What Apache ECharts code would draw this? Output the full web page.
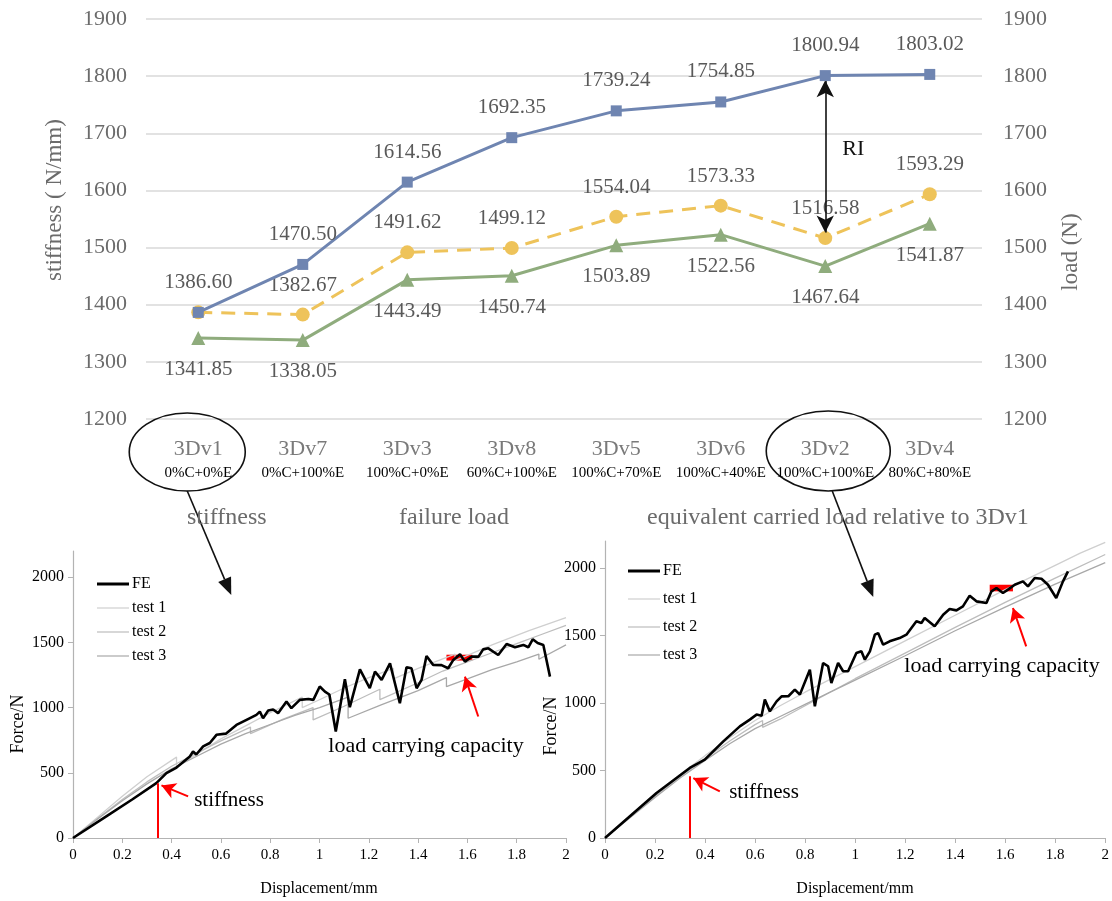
<!DOCTYPE html>
<html><head><meta charset="utf-8">
<script src="https://cdn.jsdelivr.net/npm/echarts@6/dist/echarts.min.js"></script>
<style>html,body{margin:0;padding:0;background:#fff}#c{width:1112px;height:901px}</style>
</head><body><div id="c"></div>
<script>
// ---------- top chart data ----------
const categories = ['3Dv1','3Dv7','3Dv3','3Dv8','3Dv5','3Dv6','3Dv2','3Dv4'];
const compositions = ['0%C+0%E','0%C+100%E','100%C+0%E','60%C+100%E','100%C+70%E','100%C+40%E','100%C+100%E','80%C+80%E'];
const stiffness = [1386.60,1470.50,1614.56,1692.35,1739.24,1754.85,1800.94,1803.02];
const failureLoad = [1341.85,1338.05,1443.49,1450.74,1503.89,1522.56,1467.64,1541.87];
const equivalentLoad = [1386.60,1382.67,1491.62,1499.12,1554.04,1573.33,1516.58,1593.29];
const topTicks = [1200,1300,1400,1500,1600,1700,1800,1900];
// ---------- bottom charts data (displacement mm, force N) ----------
const feLeft = [[0,0],[0.135,166],[0.24,295],[0.338,421],[0.379,497],[0.42,540],[0.474,625],[0.487,663],[0.5,640],[0.528,702],[0.555,728],[0.582,791],[0.62,800],[0.663,867],[0.704,906],[0.744,944],[0.758,969],[0.771,918],[0.792,977],[0.812,985],[0.832,957],[0.866,1046],[0.886,995],[0.92,1059],[0.955,1066],[0.975,1059],[1.001,1161],[1.022,1122],[1.04,1100],[1.066,816],[1.103,1217],[1.123,1003],[1.164,1293],[1.204,1148],[1.225,1276],[1.252,1212],[1.286,1339],[1.326,1033],[1.353,1309],[1.373,1301],[1.394,1148],[1.414,1212],[1.434,1395],[1.461,1327],[1.495,1325],[1.522,1301],[1.543,1365],[1.57,1408],[1.59,1352],[1.617,1390],[1.645,1390],[1.664,1446],[1.685,1454],[1.725,1403],[1.759,1487],[1.793,1462],[1.827,1480],[1.847,1462],[1.865,1523],[1.885,1495],[1.908,1480],[1.935,1237]];
const test1Left = [[0,0],[0.1,160],[0.2,320],[0.3,470],[0.42,620],[0.42,545],[0.5,640],[0.6,760],[0.7,860],[0.8,960],[0.93,1080],[0.93,1000],[1.0,1060],[1.1,1150],[1.2,1230],[1.3,1300],[1.3,1220],[1.4,1300],[1.55,1410],[1.55,1360],[1.7,1480],[1.85,1590],[2.0,1690]];
const test2Left = [[0,0],[0.1,150],[0.2,295],[0.3,430],[0.4,550],[0.5,650],[0.6,745],[0.72,850],[0.72,800],[0.85,910],[0.974,1000],[0.974,905],[1.1,1010],[1.2,1100],[1.245,1140],[1.245,1060],[1.4,1190],[1.5,1280],[1.6,1350],[1.7,1420],[1.8,1490],[1.9,1560],[2.0,1630]];
const test3Left = [[0,0],[0.1,145],[0.2,285],[0.3,415],[0.4,530],[0.5,625],[0.6,720],[0.7,800],[0.8,870],[0.9,940],[1.0,1000],[1.116,1080],[1.116,918],[1.25,1020],[1.4,1130],[1.515,1230],[1.515,1160],[1.6,1220],[1.7,1290],[1.8,1350],[1.89,1410],[1.89,1370],[2.0,1480]];
const feRight = [[0,0],[0.206,333],[0.339,519],[0.399,580],[0.473,716],[0.539,827],[0.579,877],[0.606,914],[0.626,905],[0.639,1025],[0.659,938],[0.686,1012],[0.706,1049],[0.733,1050],[0.759,1099],[0.779,1062],[0.819,1247],[0.839,975],[0.872,1296],[0.892,1272],[0.905,1148],[0.932,1296],[0.952,1235],[0.972,1235],[1.005,1370],[1.025,1383],[1.039,1321],[1.059,1383],[1.079,1506],[1.092,1518],[1.112,1432],[1.138,1457],[1.178,1481],[1.205,1506],[1.245,1605],[1.265,1593],[1.278,1630],[1.318,1568],[1.352,1654],[1.378,1696],[1.405,1686],[1.431,1716],[1.458,1795],[1.485,1753],[1.525,1741],[1.545,1827],[1.565,1852],[1.591,1815],[1.611,1840],[1.638,1876],[1.671,1901],[1.691,1864],[1.718,1926],[1.745,1920],[1.771,1876],[1.804,1778],[1.831,1901],[1.851,1975]];
const test1Right = [[0,0],[0.1,160],[0.2,320],[0.3,470],[0.4,610],[0.5,745],[0.6,870],[0.7,980],[0.8,1080],[0.9,1175],[1.0,1270],[1.2,1460],[1.4,1650],[1.6,1840],[1.8,2020],[1.9,2110],[2.0,2190]];
const test2Right = [[0,0],[0.1,155],[0.2,310],[0.3,455],[0.4,590],[0.5,720],[0.6,840],[0.63,870],[0.63,820],[0.7,880],[0.8,980],[0.9,1080],[1.0,1180],[1.2,1370],[1.4,1560],[1.6,1745],[1.8,1925],[2.0,2100]];
const test3Right = [[0,0],[0.1,150],[0.2,300],[0.3,445],[0.4,575],[0.5,700],[0.6,810],[0.7,900],[0.8,990],[0.9,1080],[1.0,1170],[1.2,1350],[1.4,1535],[1.6,1710],[1.8,1880],[2.0,2040]];
const forceTicks = [0,500,1000,1500,2000];
// annotation anchors (data coords)
const stiffMarkLeft = [0.345, 420], stiffArrowLeft = [[0.467,319],[0.359,403]];
const capRectLeft = [[1.515,1360],[1.62,1405]], capArrowLeft = [[1.644,931],[1.59,1237]];
const stiffMarkRight = [0.34, 457], stiffArrowRight = [[0.459,346],[0.353,444]];
const capRectRight = [[1.538,1827],[1.631,1876]], capArrowRight = [[1.684,1420],[1.631,1704]];

const F = "'Liberation Serif','Times New Roman',serif";
const RED = '#ff0000';
const plain = v => String(v);
const chart = echarts.init(document.getElementById('c'));

function bottomX(grid){
  return {type:'value', gridIndex:grid, min:0, max:2, interval:0.2,
    axisLine:{show:true, onZero:false, lineStyle:{color:'#b3b3b3', width:1.2}},
    axisTick:{show:true, length:5, lineStyle:{color:'#b3b3b3'}},
    splitLine:{show:false},
    axisLabel:{fontFamily:F, fontSize:15, color:'#000', margin:10, formatter:plain}};
}
function bottomY(grid){
  return {type:'value', gridIndex:grid, min:0, max:2200,
    axisLine:{show:true, lineStyle:{color:'#b3b3b3', width:1.2}},
    axisTick:{show:true, length:5, customValues:forceTicks, lineStyle:{color:'#b3b3b3'}},
    splitLine:{show:false},
    axisLabel:{fontFamily:F, fontSize:16, color:'#000', margin:9, customValues:forceTicks, formatter:plain}};
}
function markers(stiffMark, stiffArrow, capRect, capArrow){
  return {
    markLine:{silent:true, animation:false, label:{show:false}, lineStyle:{color:RED, width:2, type:'solid'},
      data:[
        [{coord:[stiffMark[0],0], symbol:'none'},{coord:stiffMark, symbol:'none'}],
        [{coord:stiffArrow[0], symbol:'none'},{coord:stiffArrow[1], symbol:'arrow', symbolSize:[12,14]}],
        [{coord:capArrow[0], symbol:'none'},{coord:capArrow[1], symbol:'arrow', symbolSize:[12,14]}]
      ]},
    markArea:{silent:true, itemStyle:{color:RED, opacity:1}, label:{show:false},
      data:[[{coord:capRect[0]},{coord:capRect[1]}]]}
  };
}
function bottomSeries(grid, fe, t1, t2, t3, mk){
  const xi = grid, yi = grid + 1;
  return [
    {name:'test 1', type:'line', xAxisIndex:xi, yAxisIndex:yi, data:t1, symbol:'none', lineStyle:{color:'#cfcfcf', width:1.3}, itemStyle:{color:'#cfcfcf'}, z:2},
    {name:'test 2', type:'line', xAxisIndex:xi, yAxisIndex:yi, data:t2, symbol:'none', lineStyle:{color:'#bdbdbd', width:1.3}, itemStyle:{color:'#bdbdbd'}, z:2},
    {name:'test 3', type:'line', xAxisIndex:xi, yAxisIndex:yi, data:t3, symbol:'none', lineStyle:{color:'#a8a8a8', width:1.3}, itemStyle:{color:'#a8a8a8'}, z:2},
    Object.assign({name:'FE', type:'line', xAxisIndex:xi, yAxisIndex:yi, data:fe, symbol:'none', lineStyle:{color:'#000', width:2.6}, itemStyle:{color:'#000'}, z:3}, mk)
  ];
}
const thick = 'path://M0,0H32V3H0Z', thin = 'path://M0,0H32V1.2H0Z';
const bottomLegendData = [{name:'FE', icon:thick},{name:'test 1', icon:thin},{name:'test 2', icon:thin},{name:'test 3', icon:thin}];

const valLabel = (pos, dist) => ({show:true, position:pos, distance:dist, fontFamily:F, fontSize:21, color:'#595959',
  formatter:p => p.value.toFixed(2)});
const legTxt = {fontFamily:F, fontSize:24, color:'#6b6b6b'};

const option = {
  animation:false,
  backgroundColor:'#fff',
  grid:[
    {left:146, right:130, top:19, bottom:482},
    {left:73, right:546, top:551, bottom:63},
    {left:605, right:6, top:541, bottom:63}
  ],
  xAxis:[
    {type:'category', gridIndex:0, data:categories, boundaryGap:true,
      axisLine:{show:false}, axisTick:{show:false},
      axisLabel:{interval:0, margin:19, formatter:(v,i)=>'{a|'+v+'}\n{b|'+compositions[i]+'}',
        rich:{a:{fontFamily:F, fontSize:22, color:'#7a7a7a', lineHeight:23}, b:{fontFamily:F, fontSize:15, color:'#000', lineHeight:24}}}},
    bottomX(1), bottomX(2)
  ],
  yAxis:[
    {type:'value', gridIndex:0, position:'left', min:topTicks[0], max:topTicks[topTicks.length-1], interval:100,
      axisLine:{show:false}, axisTick:{show:false},
      splitLine:{show:true, lineStyle:{color:'#d9d9d9', width:1.5}},
      axisLabel:{fontFamily:F, fontSize:22, color:'#6b6b6b', margin:19, formatter:plain}},
    {type:'value', gridIndex:0, position:'right', min:topTicks[0], max:topTicks[topTicks.length-1], interval:100,
      axisLine:{show:false}, axisTick:{show:false}, splitLine:{show:false},
      axisLabel:{fontFamily:F, fontSize:22, color:'#6b6b6b', margin:21, formatter:plain}},
    bottomY(1), bottomY(2)
  ],
  legend:[
    {data:['stiffness'], left:176, top:501, itemWidth:0, itemHeight:0, selectedMode:false, textStyle:legTxt},
    {data:['failure load'], left:388, top:501, itemWidth:0, itemHeight:0, selectedMode:false, textStyle:legTxt},
    {data:['equivalent carried load relative to 3Dv1'], left:636, top:501, itemWidth:0, itemHeight:0, selectedMode:false, textStyle:legTxt},
    {data:bottomLegendData, orient:'vertical', left:97, top:576, itemWidth:32, itemHeight:12, itemGap:8, selectedMode:false, padding:0, symbolKeepAspect:true, textStyle:{fontFamily:F, fontSize:16, color:'#000', padding:[0,0,0,-2]}},
    {data:bottomLegendData, orient:'vertical', left:628, top:563, itemWidth:32, itemHeight:12, itemGap:12, selectedMode:false, padding:0, symbolKeepAspect:true, textStyle:{fontFamily:F, fontSize:16, color:'#000', padding:[0,0,0,-2]}}
  ],
  series:[
    {name:'failure load', type:'line', xAxisIndex:0, yAxisIndex:1, data:failureLoad,
      symbol:'triangle', symbolSize:14, lineStyle:{color:'#8fac7d', width:3}, itemStyle:{color:'#8fac7d'},
      label:valLabel('bottom', 14), z:3},
    {name:'equivalent carried load relative to 3Dv1', type:'line', xAxisIndex:0, yAxisIndex:1, data:equivalentLoad,
      symbol:'circle', symbolSize:14, lineStyle:{color:'#eec35a', width:3, type:[14,9]}, itemStyle:{color:'#eec35a'},
      label:valLabel('top', 12), z:4},
    {name:'stiffness', type:'line', xAxisIndex:0, yAxisIndex:0, data:stiffness,
      symbol:'rect', symbolSize:11, lineStyle:{color:'#6f85b1', width:3}, itemStyle:{color:'#6f85b1'},
      label:Object.assign(valLabel('top', 14), {formatter:p => p.dataIndex === 0 ? '' : p.value.toFixed(2)}), z:5,
      markLine:{silent:true, label:{show:false}, lineStyle:{color:'#111', width:1.6, type:'solid'},
        symbol:['arrow','arrow'], symbolSize:[13,17],
        data:[[{coord:[categories[6], stiffness[6]-8]},{coord:[categories[6], equivalentLoad[6]+10]}]]}},
    ...bottomSeries(1, feLeft, test1Left, test2Left, test3Left, markers(stiffMarkLeft, stiffArrowLeft, capRectLeft, capArrowLeft)),
    ...bottomSeries(2, feRight, test1Right, test2Right, test3Right, markers(stiffMarkRight, stiffArrowRight, capRectRight, capArrowRight))
  ]
};
chart.setOption(option);

// ---------- pixel-level annotations ----------
function arrowEls(x1,y1,x2,y2,color,w,len,half){
  const a = Math.atan2(y2-y1, x2-x1);
  const bx = x2 - len*Math.cos(a), by = y2 - len*Math.sin(a);
  const px = -Math.sin(a)*half, py = Math.cos(a)*half;
  return [
    {type:'line', shape:{x1:x1,y1:y1,x2:bx,y2:by}, style:{stroke:color, lineWidth:w}, silent:true},
    {type:'polygon', shape:{points:[[x2,y2],[bx+px,by+py],[bx-px,by-py]]}, style:{fill:color}, silent:true}
  ];
}
const p1 = chart.convertToPixel({xAxisIndex:0, yAxisIndex:0}, [0, 1200]);
const p2 = chart.convertToPixel({xAxisIndex:0, yAxisIndex:0}, [6, 1200]);
const pRI = chart.convertToPixel({xAxisIndex:0, yAxisIndex:0}, [6, (stiffness[6]+equivalentLoad[6])/2 + 14]);
const txt = (x,y,text,size,color,rot) => ({type:'text', x:x, y:y, rotation:rot||0, silent:true,
  style:{text:text, fontFamily:F, fontSize:size, fill:color, align:'center', verticalAlign:'middle'}});
const g = [
  txt(55, 200, 'stiffness ( N/mm)', 23, '#6b6b6b', Math.PI/2),
  txt(1071, 252, 'load (N)', 23, '#6b6b6b', Math.PI/2),
  txt(pRI[0]+28, pRI[1], 'RI', 22, '#111'),
  {type:'ellipse', shape:{cx:p1[0]-11, cy:452, rx:58, ry:39}, style:{fill:null, stroke:'#111', lineWidth:1.6}, silent:true},
  {type:'ellipse', shape:{cx:p2[0]+3, cy:451, rx:62, ry:40}, style:{fill:null, stroke:'#111', lineWidth:1.6}, silent:true},
  ...arrowEls(p1[0]-11, 491, p1[0]+33, 595, '#111', 1.6, 17, 7),
  ...arrowEls(p2[0]+7, 491, p2[0]+48, 597, '#111', 1.6, 17, 7),
  txt(18, 724, 'Force/N', 18, '#000', Math.PI/2),
  txt(551, 726, 'Force/N', 18, '#000', Math.PI/2),
  txt(319, 889, 'Displacement/mm', 16, '#000'),
  txt(855, 889, 'Displacement/mm', 16, '#000'),
  txt(229, 800, 'stiffness', 21, '#000'),
  txt(426, 746, 'load carrying capacity', 22, '#000'),
  txt(764, 792, 'stiffness', 21, '#000'),
  txt(1002, 666, 'load carrying capacity', 22, '#000')
];
chart.setOption({graphic:g});
</script></body></html>
